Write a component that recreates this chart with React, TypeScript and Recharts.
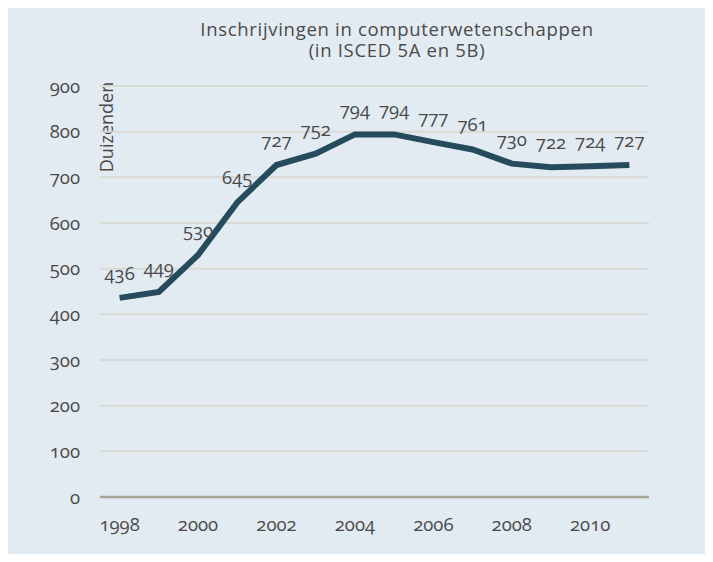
import { LineChart, Line, XAxis, YAxis, CartesianGrid, LabelList } from 'recharts'

const years = ['1998', '1999', '2000', '2001', '2002', '2003', '2004', '2005', '2006', '2007', '2008', '2009', '2010', '2011']
const enrolments = [436, 449, 530, 645, 727, 752, 794, 794, 777, 761, 730, 722, 724, 727]
const yTicks = [0, 100, 200, 300, 400, 500, 600, 700, 800, 900]
const titleLines = ['Inschrijvingen in computerwetenschappen', '(in ISCED 5A en 5B)']

const data = years.map((year, i) => ({ year, value: enrolments[i] }))

const font = '"Open Sans", sans-serif'
const textColor = '#4a4a4a'

const App = () => {
  return (
    <div style={{ position: 'relative', width: 713, height: 562, margin: -8, background: '#fff', fontFamily: font }}>
      <div style={{ position: 'absolute', left: 7, top: 7, width: 706, height: 552, background: '#e3ebf2' }} />
      {titleLines.map((line, i) => (
        <div
          key={line}
          style={{
            position: 'absolute',
            left: 0,
            width: 794,
            top: 19 + i * 21,
            textAlign: 'center',
            color: textColor,
            fontSize: 18.5,
            letterSpacing: 0.7,
            lineHeight: '19px',
          }}
        >
          {line}
        </div>
      ))}
      <div
        style={{
          position: 'absolute',
          left: 106,
          top: 127,
          transform: 'translate(-50%, -50%) rotate(-90deg)',
          color: textColor,
          fontSize: 18,
          whiteSpace: 'nowrap',
        }}
      >
        Duizenden
      </div>
      <LineChart
        width={713}
        height={562}
        data={data}
        margin={{ top: 86, right: 64, bottom: 25, left: 0 }}
        style={{ position: 'absolute', left: 0, top: 0, fontVariantNumeric: 'oldstyle-nums' }}
      >
        <CartesianGrid vertical={false} stroke="#d9d9d6" strokeWidth={2} />
        <XAxis
          dataKey="year"
          interval={1}
          height={40}
          padding={{ left: 19.6, right: 19.6 }}
          tickLine={false}
          tickSize={0}
          tickMargin={21}
          axisLine={{ stroke: '#a7a696', strokeWidth: 2.5 }}
          tick={{ fill: textColor, fontSize: 18.5, fontFamily: font }}
        />
        <YAxis
          width={100}
          domain={[0, 900]}
          ticks={yTicks}
          axisLine={false}
          tickLine={false}
          tickSize={0}
          tickMargin={20}
          tick={{ fill: textColor, fontSize: 18.5, fontFamily: font }}
        />
        <Line
          type="linear"
          dataKey="value"
          stroke="#264b5d"
          strokeWidth={6}
          dot={false}
          isAnimationActive={false}
        >
          <LabelList dataKey="value" position="top" offset={18} fill={textColor} fontSize={18.5} fontFamily={font} />
        </Line>
      </LineChart>
    </div>
  )
}

export default App
